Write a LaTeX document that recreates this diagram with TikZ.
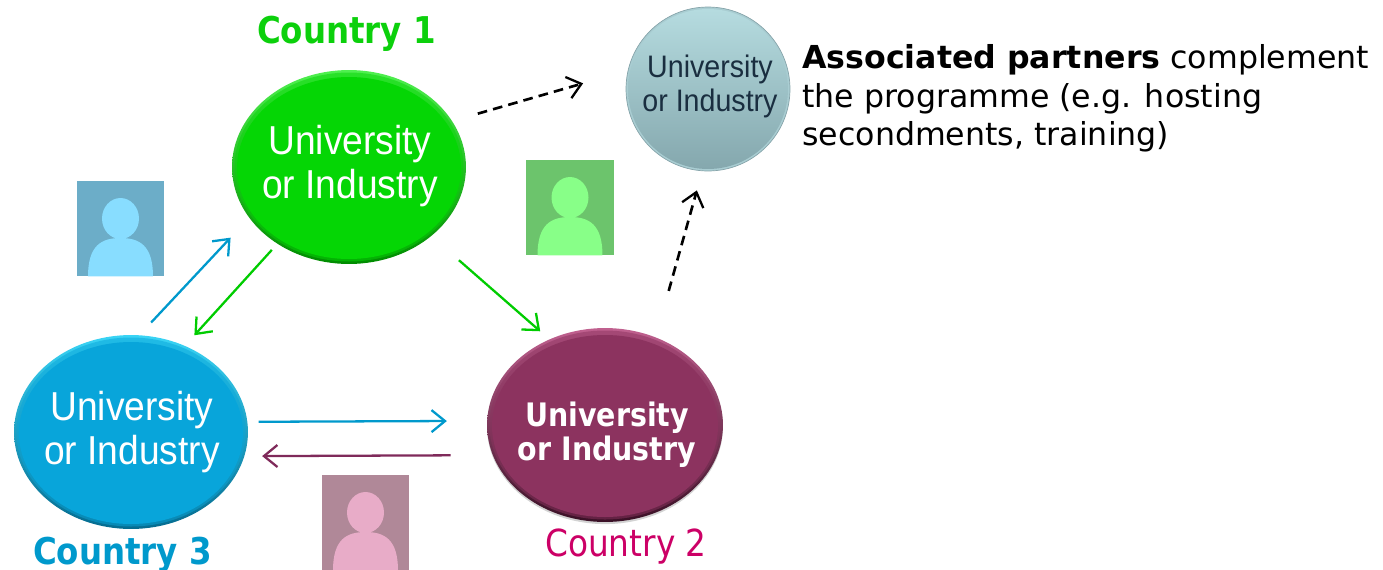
\documentclass[tikz,border=0pt]{standalone}
\usepackage{xcolor}
\usepackage{fontspec}
\usepackage{tikz}
\usetikzlibrary{shapes.geometric}
\usetikzlibrary{arrows.meta}
\usetikzlibrary{shadows}
\setmainfont{DejaVu Sans}
\newfontfamily\unifont[FakeStretch=0.92]{Liberation Sans}
\newfontfamily\unibold[FakeStretch=0.88]{DejaVu Sans Bold}
\newfontfamily\countryfont[FakeStretch=0.88]{DejaVu Sans}
\definecolor{greenmain}{HTML}{05D605}
\definecolor{greentop}{HTML}{4FF04F}
\definecolor{greenlow}{HTML}{008C00}
\definecolor{bluemain}{HTML}{08A5DA}
\definecolor{bluetop}{HTML}{3AD4F5}
\definecolor{bluelow}{HTML}{056C90}
\definecolor{purplemain}{HTML}{8C335F}
\definecolor{purpletop}{HTML}{C0608F}
\definecolor{purplelow}{HTML}{3A1026}
\definecolor{partnerrim}{HTML}{A9CDD2}
\definecolor{partnertop}{HTML}{B6DCE0}
\definecolor{partnermid}{HTML}{A4C9CF}
\definecolor{partnerlow}{HTML}{84A7AD}
\definecolor{partneredge}{HTML}{86A4AA}
\definecolor{partnertext}{HTML}{1A2E40}
\definecolor{arrowblue}{HTML}{0099CC}
\definecolor{arrowgreen}{HTML}{00CC00}
\definecolor{arrowpurple}{HTML}{7F2A5A}
\definecolor{countrygreen}{HTML}{0CD00C}
\definecolor{countrypink}{HTML}{CC0066}
\definecolor{personblueback}{HTML}{6CADC8}
\definecolor{personblue}{HTML}{88DDFF}
\definecolor{persongreenback}{HTML}{6CC46C}
\definecolor{persongreen}{HTML}{88FF88}
\definecolor{personpinkback}{HTML}{B08898}
\definecolor{personpink}{HTML}{E8ACC8}
\tikzset{
  unit/.style n args={5}{ellipse, draw=none, inner sep=0pt, minimum width=#4*0.04cm, minimum height=#5*0.04cm,
    top color=#1, bottom color=#2,
    path picture={
      \fill[#3, opacity=0.5] (path picture bounding box.center) ellipse ({(#4-2.5)*0.02cm} and {(#5-2.5)*0.02cm});
      \fill[#3] ([yshift=-0.02cm]path picture bounding box.center) ellipse ({(#4-5)*0.02cm} and {(#5-6)*0.02cm});
    }},
  unitext/.style={text=white, align=center, font=\unifont\fontsize{23}{25.5}\selectfont},
  flow/.style={-{Straight Barb[length=2.7mm, width=4.4mm, line width=1.3pt]}, line width=1.3pt},
  dashflow/.style={flow, black, line width=1.5pt, dash pattern=on 5.5pt off 3.5pt},
  personbox/.style={rectangle, draw=none, inner sep=0pt, minimum width=1.76cm, minimum height=1.9cm},
}
% one person: name, centre x, centre y, background, figure
\newcommand{\person}[5]{
  \node[personbox, fill=#4] (#1) at (#2,#3) {};
  \fill[#5] ([yshift=0.2cm]#1.center) ellipse (0.37cm and 0.41cm);
  \fill[#5] ([xshift=-0.65cm]#1.south) .. controls +(0cm,0.62cm) and +(-0.38cm,0cm) .. ([yshift=-0.19cm]#1.center)
     .. controls +(0.38cm,0cm) and +(0cm,0.62cm) .. ([xshift=0.65cm]#1.south) -- cycle;
}
\begin{document}
\begin{tikzpicture}[x=0.02cm, y=-0.02cm]
  \useasboundingbox (0,0) rectangle (1383,569);
  % Partners
  \node[unit={greentop}{greenlow}{greenmain}{117}{97}] (uni1) at (349,167) {};
  \node[unit={bluetop}{bluelow}{bluemain}{117}{97}] (uni3) at (131,432) {};
  \node[unit={purpletop}{purplelow}{purplemain}{118}{97}, drop shadow={opacity=0.35, shadow xshift=0pt, shadow yshift=-1.2pt}] (uni2) at (605,425) {};
  \node[ellipse, draw=partneredge, line width=0.4pt, inner sep=0pt, minimum width=3.28cm, minimum height=3.28cm, fill=partnerrim,
    path picture={\shade[top color=partnertop, middle color=partnermid, bottom color=partnerlow] (path picture bounding box.center) circle (1.6cm);}] (partner) at (708,89) {};
  % Labels
  \node[unitext] (uni1text) at (350,166) {University\\or Industry};
  \node[unitext] (uni3text) at (132,432) {University\\or Industry};
  \node[unitext, font=\unibold\fontsize{18.4}{19.3}\selectfont] (uni2text) at (607,435) {University\\or Industry};
  \node[unitext, text=partnertext, font=\unifont\fontsize{17.7}{19.3}\selectfont] (partnerlabel) at (710,86) {University\\or Industry};
  \node[text=countrygreen, font=\unibold\fontsize{21}{24}\selectfont] (country1) at (346.5,34) {Country 1};
  \node[text=countrypink, font=\countryfont\fontsize{21.2}{24}\selectfont] (country2) at (626,547) {Country 2};
  \node[text=arrowblue, font=\unibold\fontsize{21}{24}\selectfont] (country3) at (122.5,555) {Country 3};
  \node[anchor=north west, inner sep=0pt, align=left, font=\fontsize{18}{22}\selectfont] (note) at (802,44) {\textbf{Associated partners} complement\\the programme (e.g. hosting\\secondments, training)};
  % Persons
  \person{person3}{120.5}{228.5}{personblueback}{personblue}
  \person{person1}{570}{207.5}{persongreenback}{persongreen}
  \person{person2}{365.5}{522.5}{personpinkback}{personpink}
  % Flows
  \draw[flow, arrowblue, shorten <=0.34cm, shorten >=0.54cm] (uni3.85.7) -- (uni1.207.4);
  \draw[flow, arrowgreen, shorten <=0.16cm, shorten >=0.28cm] (uni1.227.6) -- (uni3.58.9);
  \draw[flow, arrowgreen, shorten <=0.73cm, shorten >=0.24cm] (uni1.320.4) -- (uni2.123.9);
  \draw[flow, arrowblue, shorten <=0.22cm, shorten >=0.80cm] (uni3.5.4) -- (uni2.178);
  \draw[flow, arrowpurple, shorten <=0.84cm, shorten >=0.35cm] (uni2.195.5) -- (uni3.348.1);
  \draw[dashflow, shorten <=0.53cm, shorten >=0.93cm] (uni1.24.7) -- (partner.167.9);
  \draw[dashflow, shorten <=0.96cm, shorten >=0.40cm] (uni2.60.5) -- (partner.266.2);
\end{tikzpicture}
\end{document}
